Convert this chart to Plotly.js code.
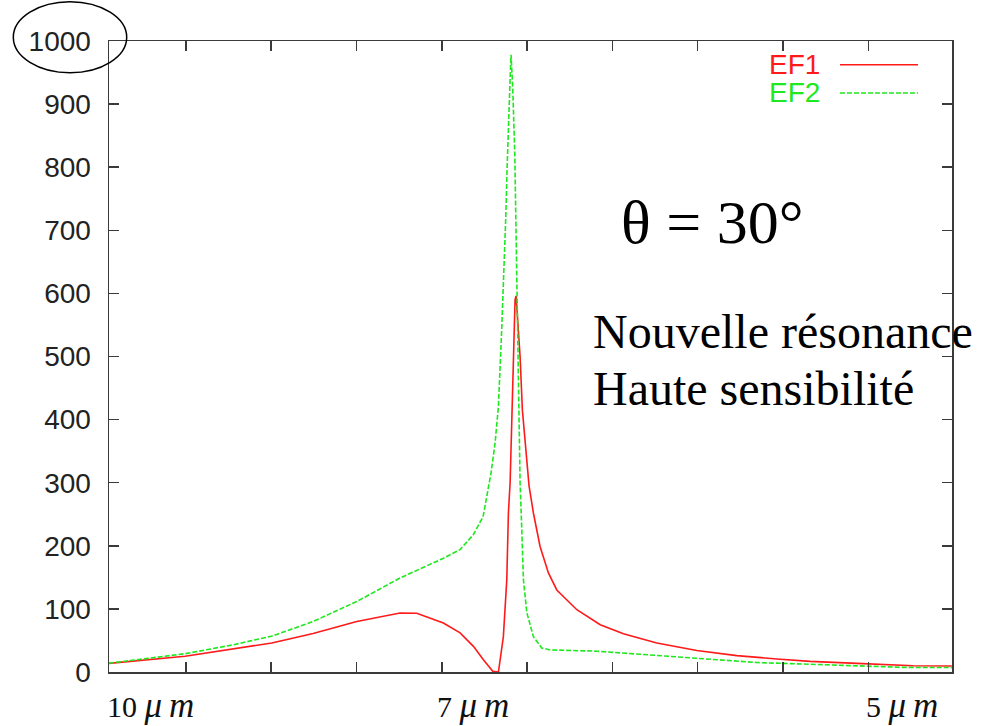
<!DOCTYPE html>
<html>
<head>
<meta charset="utf-8">
<script src="https://cdn.plot.ly/plotly-3.0.1.min.js"></script>
<style>html,body{margin:0;padding:0;background:#fff;}#chart{width:990px;height:726px;}</style>
</head>
<body>
<div id="chart"></div>
<script>
// x in axis-tick units (ticks at 1..9), y = enhancement factor
const ef1X = [0.101, 0.992, 2.008, 2.492, 3.004, 3.511, 3.707, 4.019, 4.215, 4.371, 4.488, 4.598, 4.664, 4.722, 4.762, 4.781, 4.801, 4.821, 4.851, 4.859, 4.871, 4.883, 4.898, 4.918, 4.945, 4.968, 4.997, 5.023, 5.074, 5.152, 5.250, 5.348, 5.583, 5.857, 6.129, 6.520, 6.989, 7.458, 7.927, 8.317, 8.864, 9.524, 9.978];
const ef1Y = [13.6, 25, 46, 61, 80, 93.4, 93, 77.6, 62, 40.6, 19.5, 1, 0, 56, 146, 252, 300, 400, 520, 590, 596, 570, 545, 500, 415, 380, 335, 295, 252, 199, 157, 130, 98.7, 75, 60.7, 46, 34, 26, 20.6, 16.8, 13.6, 10, 9.5];

const ef2X = [0.101, 0.992, 1.554, 2.011, 2.492, 3.008, 3.511, 4.015, 4.215, 4.367, 4.484, 4.543, 4.578, 4.625, 4.664, 4.703, 4.734, 4.750, 4.766, 4.781, 4.801, 4.812, 4.832, 4.856, 4.871, 4.891, 4.910, 4.918, 4.938, 4.957, 4.997, 5.074, 5.172, 5.270, 5.817, 6.442, 6.989, 7.692, 8.469, 9.407, 9.978];
const ef2Y = [14, 29, 43, 57, 80, 112, 149, 180, 194, 217, 246, 289, 316, 363, 421, 545, 650, 720, 800, 880, 940, 978, 925, 820, 690, 479, 363, 300, 225, 146, 94, 56, 38, 35, 33, 27, 21, 15, 11.6, 7.3, 7];

const xTickVals = [1, 2, 3, 4, 5, 6, 7, 8, 9];
const yTickVals = [0, 100, 200, 300, 400, 500, 600, 700, 800, 900, 1000];
const wlNumbers = ["10", "7", "5"];
const wlPos = [0.581, 4.361, 9.395];
const seriesNames = ["EF1", "EF2"];

const RED = '#ff1a1a', GREEN = '#1ee81e', AX = '#3a3a3a';

const traces = [
  {x: ef1X, y: ef1Y, name: seriesNames[0], mode: 'lines', line: {color: RED, width: 1.6}, showlegend: false},
  {x: ef2X, y: ef2Y, name: seriesNames[1], mode: 'lines', line: {color: GREEN, width: 1.6, dash: '5px,2px'}, showlegend: false}
];

const annotations = wlNumbers.map((t, i) => ({
  text: t + " <span style='font-size:35px'><i>μ\u2009m</i></span>", x: wlPos[i], xref: 'x', y: -0.053, yref: 'paper', showarrow: false,
  xanchor: 'center', yanchor: 'middle',
  font: {family: 'Liberation Serif, Times New Roman, serif', size: 30, color: '#111'}
}));
annotations.push(
  {text: seriesNames[0], x: 0.8458, y: 0.9624, xref: 'paper', yref: 'paper', xanchor: 'right', yanchor: 'middle', showarrow: false,
   font: {family: 'Liberation Sans, Arial, sans-serif', size: 28, color: RED}},
  {text: seriesNames[1], x: 0.8458, y: 0.9176, xref: 'paper', yref: 'paper', xanchor: 'right', yanchor: 'middle', showarrow: false,
   font: {family: 'Liberation Sans, Arial, sans-serif', size: 28, color: GREEN}},
  {text: 'θ = 30°', x: 0.7153, y: 0.7137, xref: 'paper', yref: 'paper', xanchor: 'center', yanchor: 'middle', showarrow: false,
   font: {family: 'Liberation Serif, Times New Roman, serif', size: 62, color: '#000'}},
  {text: 'Nouvelle résonance', x: 0.5722, y: 0.5395, xref: 'paper', yref: 'paper', xanchor: 'left', yanchor: 'middle', showarrow: false,
   font: {family: 'Liberation Serif, Times New Roman, serif', size: 48, color: '#000'}},
  {text: 'Haute sensibilité', x: 0.5722, y: 0.4495, xref: 'paper', yref: 'paper', xanchor: 'left', yanchor: 'middle', showarrow: false,
   font: {family: 'Liberation Serif, Times New Roman, serif', size: 48, color: '#000'}}
);

const shapes = [
  {type: 'line', xref: 'paper', yref: 'paper', x0: 0.8671, x1: 0.9597, y0: 0.9624, y1: 0.9624, line: {color: RED, width: 1.6}},
  {type: 'line', xref: 'paper', yref: 'paper', x0: 0.8671, x1: 0.9597, y0: 0.9176, y1: 0.9176, line: {color: GREEN, width: 1.6, dash: '5px,2px'}},
  {type: 'circle', xref: 'paper', yref: 'paper', x0: -0.1135, x1: 0.0210, y0: 0.9497, y1: 1.0623, line: {color: '#000', width: 1.5}}
];

const layout = {
  width: 990, height: 726,
  margin: {l: 109, r: 38, t: 41, b: 54},
  paper_bgcolor: '#fff', plot_bgcolor: '#fff',
  showlegend: false,
  xaxis: {
    range: [0.1, 9.98], tickvals: xTickVals, showticklabels: false,
    ticks: 'inside', ticklen: 10, tickwidth: 1.5, tickcolor: AX,
    showline: true, linecolor: AX, linewidth: 1.5, mirror: 'ticks',
    showgrid: false, zeroline: false, fixedrange: true
  },
  yaxis: {
    range: [0, 1000], tickvals: yTickVals,
    ticks: 'inside', ticklen: 10, tickwidth: 1.5, tickcolor: AX,
    showline: true, linecolor: AX, linewidth: 1.5, mirror: 'ticks',
    showgrid: false, zeroline: false, fixedrange: true,
    ticklabelstandoff: 11,
    tickfont: {family: 'Liberation Sans, Arial, sans-serif', size: 28, color: '#222'}
  },
  annotations: annotations,
  shapes: shapes
};

Plotly.newPlot('chart', traces, layout, {displayModeBar: false, staticPlot: true});
</script>
</body>
</html>
